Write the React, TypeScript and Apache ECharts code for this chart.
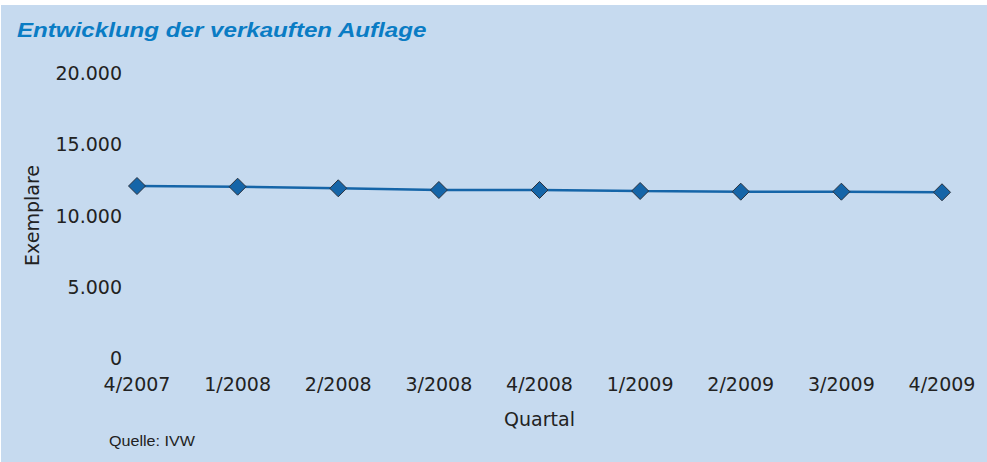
import React, { useEffect, useRef } from "react";
import * as echarts from "echarts";

const quarters = ["4/2007", "1/2008", "2/2008", "3/2008", "4/2008", "1/2009", "2/2009", "3/2009", "4/2009"];
const copies = [12070, 12020, 11910, 11790, 11790, 11720, 11670, 11670, 11630];
const yTicks = { min: 0, max: 20000, interval: 5000 };
const titleText = "Entwicklung der verkauften Auflage";
const sourceText = "Quelle: IVW";
const xName = "Quartal";
const yName = "Exemplare";

const fmt = (v: number) => String(v).replace(/\B(?=(\d{3})+(?!\d))/g, ".");

export default function App() {
  const ref = useRef<HTMLDivElement>(null);
  useEffect(() => {
    document.body.style.margin = "0";
    const chart = echarts.init(ref.current!, null, { renderer: "svg" });
    const axisFont = { fontFamily: "DejaVu Sans", fontSize: 19, color: "#222222" };
    chart.setOption({
      animation: false,
      backgroundColor: "#ffffff",
      graphic: [
        { type: "rect", left: 1, top: 5, shape: { width: 986, height: 457 }, style: { fill: "#c6daef" }, z: -10 },
        {
          type: "text", x: 17, y: 30, scaleX: 1.15,
          style: { text: titleText, fill: "#0a7cc4", font: "italic bold 21px 'Liberation Sans', Arial, sans-serif", verticalAlign: "middle" },
        },
        {
          type: "text", x: 109, y: 441, scaleX: 1.15,
          style: { text: sourceText, fill: "#222222", font: "14px 'Liberation Sans', Arial, sans-serif", verticalAlign: "middle" },
        },
      ],
      grid: { left: 137, right: 45, top: 73, bottom: 104, containLabel: false },
      xAxis: {
        type: "category",
        data: quarters,
        boundaryGap: false,
        axisLine: { show: false },
        axisTick: { show: false },
        axisLabel: { ...axisFont, margin: 16 },
        name: xName,
        nameLocation: "middle",
        nameGap: 51,
        nameTextStyle: { ...axisFont },
      },
      yAxis: {
        type: "value",
        min: yTicks.min,
        max: yTicks.max,
        interval: yTicks.interval,
        axisLine: { show: false },
        axisTick: { show: false },
        splitLine: { show: false },
        axisLabel: { ...axisFont, margin: 15, formatter: (v: number) => fmt(v) },
        name: yName,
        nameLocation: "middle",
        nameRotate: 90,
        nameGap: 96,
        nameTextStyle: { ...axisFont },
      },
      series: [
        {
          type: "line",
          data: copies,
          symbol: "diamond",
          symbolSize: 17,
          lineStyle: { color: "#1565a8", width: 2.6 },
          itemStyle: { color: "#1565a8", borderColor: "#2a3340", borderWidth: 1 },
        },
      ],
    });
    return () => chart.dispose();
  }, []);
  return <div ref={ref} style={{ width: 987, height: 462 }} />;
}
